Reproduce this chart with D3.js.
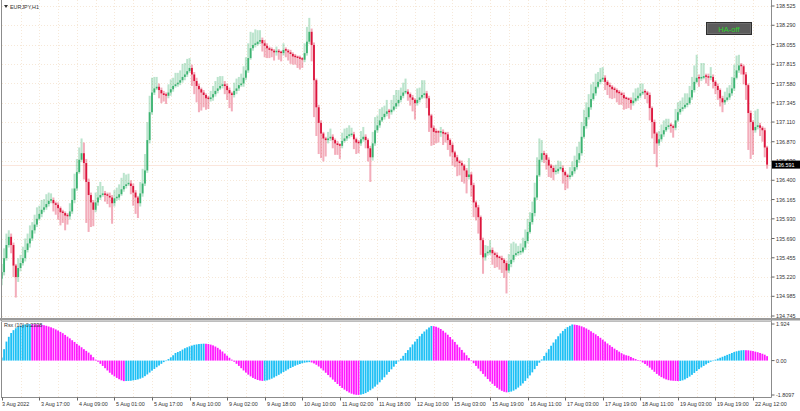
<!DOCTYPE html>
<html><head><meta charset="utf-8">
<script src="https://cdn.jsdelivr.net/npm/d3@7"></script>
<style>body{margin:0;background:#fff}svg{display:block}text{font-family:"Liberation Sans",Arial,sans-serif}</style>
</head><body><svg id="c" width="800" height="411"></svg>
<script>
const symbol = "EURJPY,H1";
const oscName = "Rsx (10) 0.2338";
const firstOpen = 135.20;
const lastPrice = 136.591;
const closes = [
135.28,135.45,135.61,135.71,135.61,135.36,135.22,135.33,135.39,135.45,
135.55,135.63,135.69,135.79,135.86,135.93,135.99,136.04,136.07,136.11,
136.15,136.16,136.12,136.10,136.06,136.01,136.00,135.97,135.96,136.02,
136.16,136.30,136.50,136.65,136.73,136.61,136.38,136.22,136.13,136.04,
136.13,136.19,136.22,136.23,136.22,136.21,136.19,136.12,136.18,136.19,
136.23,136.29,136.33,136.35,136.36,136.33,136.25,136.19,136.12,136.24,
136.36,136.52,136.89,137.23,137.47,137.52,137.54,137.50,137.46,137.44,
137.43,137.47,137.51,137.55,137.57,137.59,
137.62,137.66,137.69,137.73,137.77,
137.69,137.61,137.55,137.51,137.47,137.44,137.40,137.39,137.41,137.45,
137.49,137.52,137.55,137.57,137.55,137.50,137.46,137.44,137.49,137.52,
137.56,137.58,137.65,137.74,137.89,138.01,138.05,138.06,138.09,138.11,
138.07,138.04,138.01,137.99,137.98,137.96,137.97,137.96,137.95,137.99,
137.98,137.96,137.94,137.91,137.90,137.89,137.88,137.87,137.95,138.09,
138.21,138.05,137.62,137.29,137.10,136.97,136.91,136.89,136.91,136.93,
136.89,136.85,136.83,136.82,136.88,136.91,136.94,136.95,136.96,136.90,
136.86,136.85,136.90,136.93,136.89,136.79,136.68,136.85,137.01,137.07,
137.13,137.17,137.21,137.24,137.23,137.26,137.30,137.34,137.38,137.43,
137.47,137.48,137.45,137.41,137.38,137.34,137.38,137.41,137.44,137.46,
137.40,137.19,137.04,136.99,136.99,136.98,136.99,136.97,136.96,136.89,
136.83,136.74,136.68,136.63,136.61,136.58,136.52,136.44,136.47,136.34,
136.13,136.07,135.95,135.67,135.46,135.51,135.52,135.55,135.51,135.49,
135.46,135.45,135.43,135.39,135.30,135.38,135.43,135.49,135.51,135.52,
135.53,135.58,135.66,135.77,135.89,136.00,136.19,136.46,136.65,136.73,
136.71,136.65,136.58,136.55,136.50,136.51,136.54,136.55,136.50,136.46,
136.44,136.46,136.51,136.56,136.65,136.73,136.93,137.06,137.17,137.29,
137.39,137.46,137.54,137.60,137.63,137.65,137.60,137.56,137.54,137.51,
137.50,137.47,137.46,137.44,137.40,137.39,
137.38,137.34,137.37,137.40,137.43,
137.46,137.48,137.47,137.44,137.28,137.11,136.97,136.85,136.90,136.96,
137.01,137.05,137.07,137.06,137.04,137.13,137.23,137.27,137.29,137.32,
137.34,137.41,137.50,137.60,137.65,137.64,137.65,137.67,137.66,137.65,
137.66,137.60,137.55,137.50,137.40,137.35,137.38,137.41,137.46,137.52,
137.65,137.74,137.80,137.79,137.69,137.56,137.22,137.11,137.01,137.05,
137.07,137.04,137.01,136.80,136.591];
// upper / lower wick lengths in hundredths of a yen
const wickUp = [
10,12,14,8,4,3,2,12,10,14, 14,12,16,10,12,14,10,12,10,12, 10,8,3,2,3,2,3,2,3,10,
14,18,16,15,18,13,5,4,3,3, 12,14,16,10,4,3,4,3,10,12, 12,14,16,12,12,4,3,3,2,14,
18,20,22,20,18,14,12,4,3,3, 3,10,12,10,14,12, 12,16,14,15,12,
4,3,4,3,2,3,2,3,8,10, 12,14,12,10,4,3,3,2,10,12, 10,12,14,16,18,20,15,18,14,12,
3,4,3,2,3,2,6,3,2,8, 3,2,3,2,3,2,3,2,12,18, 17,4,3,2,3,3,2,2,8,10,
3,2,3,2,10,12,10,12,8,3, 2,3,10,12,3,2,3,14,16,12, 14,12,10,14,3,12,14,16,12,10,
12,16,3,2,3,2,14,12,18,16, 3,3,2,3,4,2,6,3,2,3, 2,3,2,3,2,3,2,3,20,3,
3,2,3,2,3,10,8,12,3,2, 3,2,3,2,3,12,20,16,12,8, 10,12,14,16,12,14,18,22,26,16,
3,2,3,2,3,8,10,8,3,2, 2,10,12,14,16,14,18,20,18,16, 18,14,16,12,14,13,3,2,3,2,
3,2,3,2,3,2, 2,3,10,12,10, 12,10,3,2,3,2,3,2,10,12, 12,10,8,3,2,14,12,10,12,14,
12,14,16,20,28,4,18,16,3,4, 12,3,2,3,2,3,10,12,10,14, 16,18,13,3,2,3,2,3,2,20,
20,3,2,3,2];
const wickDn = [
8,4,3,3,10,14,25,6,4,3, 4,3,5,3,4,3,2,4,3,3, 3,3,10,12,14,16,12,18,10,4,
3,4,3,2,3,20,50,45,30,20, 3,4,3,2,8,10,12,25,4,3, 3,2,3,3,2,10,16,20,18,4,
4,3,3,4,3,3,2,10,12,8, 10,3,4,3,2,3, 3,3,4,3,2,
14,16,20,28,22,15,14,12,3,4, 3,3,2,3,10,12,18,20,3,4, 3,2,4,3,3,2,3,3,2,3,
10,14,12,10,8,10,4,9,10,3, 8,10,12,10,9,12,13,10,3,3, 3,20,45,35,38,30,28,20,4,3,
10,14,12,16,3,2,3,3,2,12, 14,12,3,3,10,16,30,4,3,3, 3,2,3,3,8,3,2,3,4,3,
3,2,8,10,14,20,3,3,2,4, 12,20,22,16,14,12,5,14,10,12, 14,16,12,18,15,20,16,20,3,14,
18,16,20,18,20,4,3,3,14,16, 12,14,16,18,28,3,4,3,2,3, 3,2,3,3,2,3,4,3,2,3,
10,12,14,12,10,3,3,2,14,18, 14,3,2,3,3,4,3,2,3,3, 3,2,3,2,3,3,10,12,14,12,
10,12,14,12,14,12, 10,8,3,2,3, 3,2,8,10,15,20,25,29,3,3, 3,2,3,8,12,3,2,3,3,2,
3,2,3,3,2,10,3,2,8,10, 3,8,10,12,10,12,3,2,3,3, 3,2,3,10,12,18,45,45,30,3,
3,10,14,12,5];
const osc = [
0.16,0.6,1.0,1.25,1.45,1.6,1.7,1.78,1.83,1.87,1.9,1.91,1.92,
1.915,1.91,1.9,1.89,1.88,1.86,1.83,1.79,1.75,1.7,1.64,1.58,1.51,1.44,1.35,1.26,1.17,1.07,0.98,0.88,0.79,0.7,0.6,0.51,0.42,0.31,0.18,0.05,-0.06,-0.17,-0.28,-0.4,-0.52,-0.64,-0.74,-0.83,-0.91,-0.98,-1.04,-1.08,
-1.075,-1.07,-1.06,-1.04,-1.02,-0.99,-0.95,-0.9,-0.82,-0.73,-0.63,-0.53,-0.44,-0.35,-0.26,-0.17,-0.08,0.0,0.08,0.17,0.28,0.4,0.45,0.5,0.58,0.65,0.7,0.75,0.79,0.83,0.85,0.87,0.88,0.89,
0.885,0.87,0.84,0.8,0.74,0.67,0.58,0.48,0.37,0.26,0.15,0.05,-0.06,-0.17,-0.28,-0.4,-0.52,-0.63,-0.74,-0.83,-0.91,-0.97,-1.02,-1.05,-1.07,
-1.06,-1.04,-1.0,-0.95,-0.89,-0.82,-0.75,-0.68,-0.6,-0.53,-0.46,-0.39,-0.33,-0.27,-0.22,-0.18,-0.14,-0.11,-0.09,-0.08,
-0.1,-0.15,-0.22,-0.31,-0.41,-0.52,-0.64,-0.76,-0.88,-1.0,-1.12,-1.23,-1.34,-1.44,-1.53,-1.61,-1.68,-1.74,-1.78,-1.8,-1.805,
-1.79,-1.76,-1.71,-1.64,-1.56,-1.47,-1.37,-1.26,-1.14,-1.01,-0.88,-0.74,-0.6,-0.46,-0.32,-0.18,-0.04,0.1,0.25,0.4,0.55,0.7,0.85,1.0,1.14,1.28,1.41,1.53,1.64,1.74,1.82,
1.81,1.78,1.73,1.66,1.57,1.47,1.36,1.24,1.11,0.98,0.84,0.7,0.56,0.42,0.28,0.14,0.0,-0.14,-0.28,-0.42,-0.56,-0.7,-0.84,-0.97,-1.1,-1.22,-1.33,-1.43,-1.52,-1.59,-1.64,-1.67,
-1.66,-1.63,-1.58,-1.51,-1.42,-1.32,-1.2,-1.07,-0.93,-0.78,-0.62,-0.45,-0.28,-0.11,0.06,0.24,0.42,0.6,0.78,0.95,1.12,1.28,1.43,1.56,1.67,1.76,1.83,1.9,
1.89,1.87,1.84,1.8,1.75,1.69,1.62,1.54,1.46,1.38,1.29,1.2,1.1,1.0,0.9,0.81,0.72,0.63,0.55,0.47,0.39,0.32,0.28,0.25,0.19,0.13,0.08,0.03,-0.03,-0.1,-0.18,-0.27,-0.37,-0.48,-0.59,-0.7,-0.79,-0.87,-0.94,-0.99,-1.03,-1.05,-1.06,-1.07,-1.075,
-1.07,-1.04,-0.99,-0.92,-0.84,-0.75,-0.65,-0.55,-0.45,-0.36,-0.28,-0.2,-0.13,-0.06,0.0,0.05,0.1,0.15,0.2,0.25,0.3,0.35,0.4,0.45,0.49,0.52,0.54,0.55,
0.545,0.54,0.52,0.5,0.47,0.44,0.4,0.36,0.31,0.2338];
const priceTicks = ["138.525","138.290","138.055","137.815","137.580","137.345","137.110","136.870","136.630","136.400","136.165","135.930","135.690","135.455","135.220","134.985","134.745"];
const oscTicks = ["1.924","0.00","-1.8097"];
const timeLabels = ["3 Aug 2022","3 Aug 17:00","4 Aug 09:00","5 Aug 01:00","5 Aug 17:00","8 Aug 10:00","9 Aug 02:00","9 Aug 18:00","10 Aug 10:00","11 Aug 02:00","11 Aug 18:00","12 Aug 10:00","15 Aug 03:00","15 Aug 19:00","16 Aug 11:00","17 Aug 03:00","17 Aug 19:00","18 Aug 11:00","19 Aug 03:00","19 Aug 19:00","22 Aug 12:00"];

const N = closes.length;
const svg = d3.select("#c");
const AX = 771.5, MAIN_BOT = 318, SUB_TOP = 321, SUB_BOT = 397.5;
const x = d3.scaleLinear().domain([0, 326]).range([1.74, 1.74 + 2.3477 * 326]);
const yP = d3.scaleLinear().domain([134.745, 138.525]).range([316, 6]);
const yO = d3.scaleLinear().domain([-1.8097, 1.924]).range([395, 324]);
const UP = "#3cb371", DN = "#dc143c", GRID = "#f6e8d8";

const defs = svg.append("defs");
defs.append("clipPath").attr("id","cm").append("rect").attr("x",2).attr("y",0).attr("width",AX-2).attr("height",MAIN_BOT);
defs.append("clipPath").attr("id","cs").append("rect").attr("x",2).attr("y",SUB_TOP).attr("width",AX-2).attr("height",SUB_BOT-SUB_TOP);

// grids
const gm = svg.append("g");
priceTicks.forEach(t => {
  gm.append("line").attr("x1",2).attr("x2",AX).attr("y1",Math.round(yP(+t))+0.5).attr("y2",Math.round(yP(+t))+0.5)
    .attr("stroke",GRID).attr("stroke-dasharray","1,2");
});
for (let i = 8; i < N; i += 8) {
  const xx = Math.round(x(i)) + 0.5;
  gm.append("line").attr("x1",xx).attr("x2",xx).attr("y1",0).attr("y2",MAIN_BOT).attr("stroke",GRID).attr("stroke-dasharray","1,2");
  gm.append("line").attr("x1",xx).attr("x2",xx).attr("y1",SUB_TOP).attr("y2",SUB_BOT).attr("stroke",GRID).attr("stroke-dasharray","1,2");
}
// current price line
gm.append("line").attr("x1",2).attr("x2",AX).attr("y1",Math.round(yP(lastPrice))+0.5).attr("y2",Math.round(yP(lastPrice))+0.5).attr("stroke","#fbe6dc").attr("stroke-width",1);

// candles
const data = closes.map((c,i) => {
  const o = i ? closes[i-1] : firstOpen;
  return {i, o, c, h: Math.max(o,c) + wickUp[i]/100, l: Math.min(o,c) - wickDn[i]/100, up: c > o};
});
const gc = svg.append("g").attr("clip-path","url(#cm)");
gc.selectAll("rect.w").data(data).join("rect").attr("class","w")
  .attr("x",d => x(d.i) - 1).attr("width",2)
  .attr("y",d => yP(d.h)).attr("height",d => Math.max(1, yP(d.l) - yP(d.h)))
  .attr("fill",d => d.up ? UP : DN).attr("fill-opacity",0.35);
gc.selectAll("rect.b").data(data).join("rect").attr("class","b")
  .attr("x",d => x(d.i) - 0.9).attr("width",1.8)
  .attr("y",d => Math.min(yP(d.o), yP(d.c)) - (Math.abs(yP(d.o)-yP(d.c)) < 1.5 ? 0.75 : 0))
  .attr("height",d => Math.max(1.5, Math.abs(yP(d.o) - yP(d.c))))
  .attr("fill",d => d.up ? UP : DN);

// oscillator
const gs = svg.append("g").attr("clip-path","url(#cs)");
gs.selectAll("rect").data(osc).join("rect")
  .attr("x",(d,i) => x(i) - 0.9).attr("width",1.8)
  .attr("y",d => Math.min(yO(0), yO(d))).attr("height",d => Math.max(0.5, Math.abs(yO(d) - yO(0))))
  .attr("fill",(d,i) => (i === 0 || d > osc[i-1]) ? "#1ec0f5" : "#ff1aff");

// frames
const fr = svg.append("g").attr("stroke","#8c8c8c").attr("fill","none");
fr.append("line").attr("x1",1.5).attr("x2",1.5).attr("y1",0).attr("y2",SUB_BOT);
fr.append("line").attr("x1",AX).attr("x2",AX).attr("y1",0).attr("y2",SUB_BOT);
fr.append("line").attr("x1",1).attr("x2",AX).attr("y1",SUB_BOT).attr("y2",SUB_BOT);
svg.append("rect").attr("x",0).attr("y",MAIN_BOT).attr("width",800).attr("height",2.5).attr("fill","#9a9a9a");
fr.append("line").attr("x1",1).attr("x2",AX).attr("y1",SUB_TOP+0.5).attr("y2",SUB_TOP+0.5).attr("stroke","#bdbdbd");

const FS = 5.4, TXT = "#333";
// price axis
const ga = svg.append("g");
priceTicks.forEach(t => {
  const yy = yP(+t);
  ga.append("line").attr("x1",AX).attr("x2",AX+3).attr("y1",yy).attr("y2",yy).attr("stroke","#666");
  ga.append("text").attr("x",776).attr("y",yy+2).attr("font-size",FS).attr("fill",TXT).text(t);
});
oscTicks.forEach(t => {
  const yy = yO(+t);
  ga.append("line").attr("x1",AX).attr("x2",AX+3).attr("y1",yy).attr("y2",yy).attr("stroke","#666");
  ga.append("text").attr("x",776).attr("y",yy+2).attr("font-size",FS).attr("fill",TXT).text(t);
});
// last price tag (covers the neighbouring grid label, as in the terminal)
const ly = yP(lastPrice);
ga.append("rect").attr("x",772).attr("y",ly-4).attr("width",28).attr("height",8).attr("fill","#000");
ga.append("text").attr("x",775).attr("y",ly+2).attr("font-size",FS).attr("fill","#fff").text(lastPrice.toFixed(3));

// time axis
timeLabels.forEach((t,k) => {
  const xx = Math.round(x(16*k)) + 0.5;
  ga.append("line").attr("x1",xx).attr("x2",xx).attr("y1",SUB_BOT).attr("y2",SUB_BOT+3).attr("stroke","#666");
  ga.append("text").attr("x",k === 0 ? 2 : xx + 1.5).attr("y",406).attr("font-size",FS).attr("fill",TXT).text(t);
});

// title, sub-window label, button
svg.append("path").attr("d","M4,5 L8,5 L6,8 Z").attr("fill","#333");
svg.append("text").attr("x",10).attr("y",8.5).attr("font-size",FS).attr("fill",TXT).text(symbol);
svg.append("text").attr("x",4).attr("y",327).attr("font-size",FS).attr("fill",TXT).text(oscName);
svg.append("rect").attr("x",706.5).attr("y",22.5).attr("width",45).attr("height",12).attr("fill","#5c5c5c").attr("stroke","#2e2e2e");
svg.append("rect").attr("x",707.5).attr("y",23.5).attr("width",43).attr("height",10).attr("fill","none").attr("stroke","#7a7a7a").attr("stroke-width",0.6);
svg.append("text").attr("x",729).attr("y",31.5).attr("text-anchor","middle").attr("font-size",7.6).attr("fill","#2fd42f").text("HA-off");
</script></body></html>
